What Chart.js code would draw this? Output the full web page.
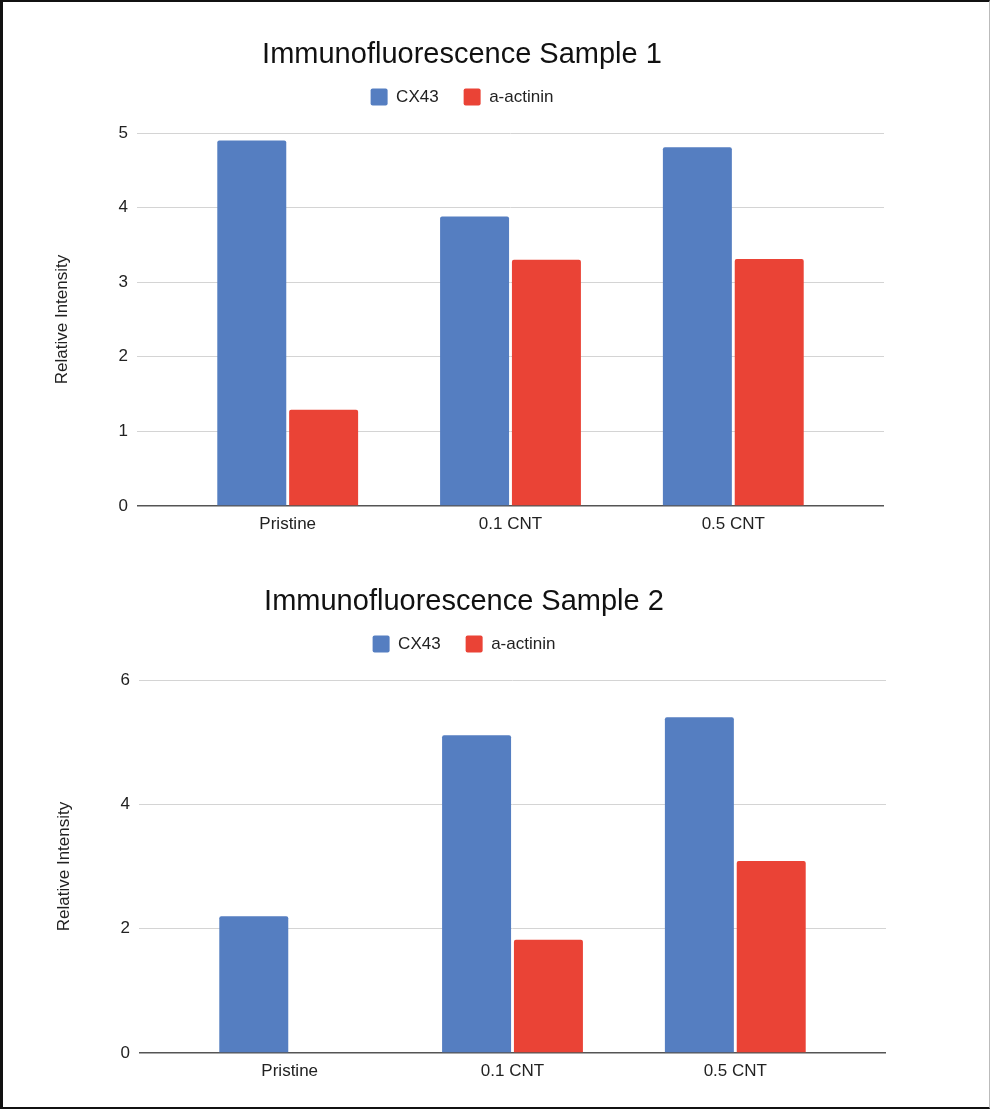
<!DOCTYPE html>
<html>
<head>
<meta charset="utf-8">
<title>Immunofluorescence</title>
<script src="https://cdn.jsdelivr.net/npm/chart.js@4.4.0/dist/chart.umd.min.js"></script>
<style>
  html, body { margin: 0; padding: 0; background: #fff; overflow: hidden; }
  #frame {
    position: absolute; left: 0; top: 0; width: 990px; height: 1109px;
    box-sizing: border-box; pointer-events: none; z-index: 2;
    border-top: 2px solid #111; border-left: 3px solid #111;
    border-bottom: 2px solid #111; border-right: 1px solid #bbb;
  }
  .box { position: absolute; }
  #box1 { left: 0; top: 0; width: 990px; height: 547px; }
  #box2 { left: 2px; top: 547px; width: 988px; height: 558px; }
</style>
</head>
<body>
<div id="frame"></div>
<div class="box" id="box1"><canvas id="chart1"></canvas></div>
<div class="box" id="box2"><canvas id="chart2"></canvas></div>
<script>
const categories = ['Pristine', '0.1 CNT', '0.5 CNT'];
const seriesNames = ['CX43', 'a-actinin'];

const sample1Cx43 = [4.9, 3.88, 4.81];
const sample1Actinin = [1.29, 3.3, 3.31];

const sample2Cx43 = [2.2, 5.11, 5.4];
const sample2Actinin = [0, 1.82, 3.09];

const sample1Ticks = { max: 5, step: 1 };
const sample2Ticks = { max: 6, step: 2 };

const blue = '#557ec1';
const red = '#ea4336';

Chart.defaults.font.family = "'Liberation Sans', Arial, sans-serif";
Chart.defaults.color = '#222';

// extra space between the legend and the plot
const legendGap = {
    id: 'legendGap',
    beforeInit(chart) {
        const fit = chart.legend.fit;
        chart.legend.fit = function () {
            fit.call(this);
            this.height += 17.5;
        };
    }
};

// categories sit on a linear axis so the plot can keep margins at both ends
function toPoints(values) {
    return values.map((v, i) => ({ x: i, y: v }));
}

function makeChart(canvasId, title, cx43, actinin, yTicks, padRight, padBottom) {
    const side = 0.1764;
    new Chart(document.getElementById(canvasId), {
        type: 'bar',
        data: {
            datasets: [
                { label: seriesNames[0], data: toPoints(cx43), backgroundColor: blue },
                { label: seriesNames[1], data: toPoints(actinin), backgroundColor: red }
            ]
        },
        plugins: [legendGap],
        options: {
            responsive: true,
            maintainAspectRatio: false,
            animation: false,
            layout: { padding: { left: 40, right: padRight, top: 0, bottom: padBottom } },
            datasets: {
                bar: {
                    categoryPercentage: 0.645,
                    barPercentage: 0.96,
                    borderRadius: { topLeft: 2, topRight: 2, bottomLeft: 0, bottomRight: 0 },
                    borderSkipped: 'start'
                }
            },
            plugins: {
                title: {
                    display: true,
                    text: title,
                    color: '#111',
                    font: { size: 29, weight: 'normal' },
                    padding: { top: 37.6, bottom: -8.9 }
                },
                legend: {
                    display: true,
                    labels: {
                        boxWidth: 17,
                        boxHeight: 17,
                        padding: 25,
                        useBorderRadius: true,
                        borderRadius: 2,
                        color: '#222',
                        font: { size: 17 }
                    }
                },
                tooltip: { enabled: false }
            },
            scales: {
                x: {
                    type: 'linear',
                    offset: false,
                    bounds: 'data',
                    min: -0.5 - side,
                    max: categories.length - 0.5 + side,
                    grid: { display: false, offset: false },
                    border: { display: false },
                    afterBuildTicks: (scale) => {
                        scale.ticks = categories.map((c, i) => ({ value: i }));
                    },
                    afterFit: (scale) => { scale.height = 30; },
                    ticks: {
                        autoSkip: false,
                        maxRotation: 0,
                        padding: 0,
                        color: '#222',
                        font: { size: 17 },
                        callback: (value) => categories[value]
                    }
                },
                y: {
                    min: 0,
                    max: yTicks.max,
                    afterFit: (scale) => { scale.width = 97; },
                    border: { display: false },
                    grid: {
                        drawTicks: false,
                        color: (ctx) => ctx.tick && ctx.tick.value === 0 ? '#555' : '#d4d4d4',
                        lineWidth: (ctx) => ctx.tick && ctx.tick.value === 0 ? 1.6 : 1
                    },
                    ticks: {
                        stepSize: yTicks.step,
                        padding: 9,
                        color: '#222',
                        font: { size: 17 }
                    },
                    title: {
                        display: true,
                        text: 'Relative Intensity',
                        color: '#222',
                        font: { size: 17 },
                        padding: { top: 12, bottom: 0 }
                    }
                }
            }
        }
    });
}

makeChart('chart1', 'Immunofluorescence Sample 1', sample1Cx43, sample1Actinin, sample1Ticks, 106, 11);
makeChart('chart2', 'Immunofluorescence Sample 2', sample2Cx43, sample2Actinin, sample2Ticks, 104, 22);
</script>
</body>
</html>
